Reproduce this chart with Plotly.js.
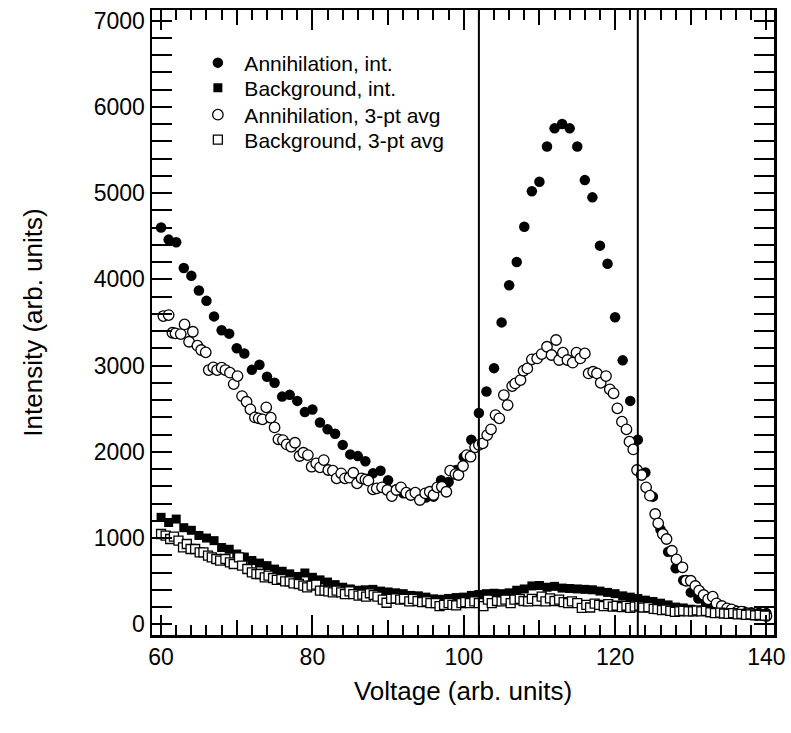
<!DOCTYPE html>
<html>
<head>
<meta charset="utf-8">
<script src="https://cdn.plot.ly/plotly-3.0.1.min.js"></script>
<style>html,body{margin:0;padding:0;background:#fff;}#chart{width:791px;height:733px;}</style>
</head>
<body>
<div id="chart"></div>
<script>
// ---- data ----
const annIntX = [60,61,62,63,64,65,66,67,68,69,70,71,72,73,74,75,76,77,78,79,80,81,82,83,84,85,86,87,88,89,90,91,92,93,94,95,96,97,98,99,100,101,102,103,104,105,106,107,108,109,110,111,112,113,114,115,116,117,118,119,120,121,122,123,124,125,126,127,128,129,130,131,132,133,134,135,136,137,138,139,140];
const annIntY = [4600,4460,4430,4130,4040,3870,3750,3570,3410,3370,3200,3140,2950,3010,2870,2800,2640,2660,2590,2460,2490,2340,2260,2210,2080,1970,1950,1890,1750,1780,1670,1560,1520,1500,1480,1470,1480,1670,1650,1790,1940,2140,2450,2700,2970,3500,3930,4200,4610,5020,5130,5540,5750,5800,5750,5540,5150,4950,4390,4180,3560,3060,2590,2140,1760,1480,1100,840,650,510,370,300,250,210,190,170,160,150,140,135,130];

const bgIntX = annIntX;
const bgIntY = [1240,1180,1220,1120,1090,1030,1000,970,890,870,815,780,740,710,680,640,615,585,555,595,545,515,490,460,430,410,395,400,405,385,375,365,355,335,330,315,295,290,300,310,315,335,345,355,360,355,365,395,410,445,450,430,440,420,415,410,405,400,385,370,355,330,315,300,280,265,245,225,200,190,175,160,150,140,130,125,120,115,110,110,105];

const annAvgX = [60.3,61.0,61.5,61.9,62.6,63.1,63.7,64.2,64.8,65.3,65.9,66.3,66.9,67.4,68.0,68.5,69.1,69.6,70.1,70.7,71.3,71.8,72.4,72.9,73.4,73.9,74.5,75.0,75.5,76.1,76.6,77.2,77.7,78.3,78.8,79.4,79.9,80.5,81.0,81.5,82.1,82.7,83.2,83.8,84.3,84.9,85.4,85.9,86.5,87.0,87.4,88.0,88.5,89.2,89.9,90.5,91.1,91.7,92.4,93.0,93.6,94.2,94.9,95.5,96.0,96.5,97.1,97.7,98.2,98.9,99.3,99.9,100.4,100.9,101.5,102.0,102.5,103.1,103.6,104.2,104.7,105.3,105.8,106.4,106.8,107.5,107.9,108.4,109.0,109.7,110.3,111.0,111.6,112.2,112.6,113.1,113.7,114.4,114.9,115.4,116.0,116.5,117.1,117.6,118.1,118.8,119.3,119.8,120.3,120.9,121.5,121.9,122.4,122.9,123.5,124.1,124.6,125.3,125.7,126.3,126.8,127.5,128.1,128.9,129.4,130.0,130.6,131.1,131.7,132.3,132.9,133.4,134.1,134.8,135.4,136.1,136.7,137.4,138.1,138.7,139.4,140.0];
const annAvgY = [3574,3585,3380,3373,3365,3477,3276,3392,3230,3180,3153,2948,2979,2948,2975,2948,2917,2785,2878,2646,2580,2492,2399,2388,2376,2515,2395,2283,2144,2136,2086,2059,2105,1951,1989,1962,1827,1866,1820,1904,1789,1781,1692,1750,1692,1700,1757,1634,1692,1680,1665,1565,1576,1588,1557,1487,1557,1588,1526,1499,1526,1441,1518,1537,1499,1588,1595,1537,1781,1742,1731,1835,1962,1943,2052,2080,2098,2194,2260,2426,2388,2658,2542,2762,2793,2832,2940,2967,3072,3083,3133,3218,3122,3296,3064,3149,3064,3033,3149,3083,3141,2909,2928,2909,2800,2878,2724,2678,2504,2349,2260,2117,2028,1789,1731,1588,1491,1279,1171,1047,989,853,753,661,505,505,444,390,340,290,320,243,212,185,174,146,146,128,120,108,108,96];

const bgAvgX = [60.0,60.6,61.2,61.7,62.3,62.9,63.4,63.9,64.5,65.1,65.6,66.2,66.7,67.3,67.8,68.5,69.1,69.6,70.3,70.7,71.4,72.0,72.6,73.1,73.7,74.2,74.8,75.3,75.9,76.4,77.0,77.5,78.2,78.8,79.3,79.9,80.5,81.0,81.6,82.1,82.7,83.2,83.8,84.3,84.9,85.4,86.1,86.6,87.1,87.6,88.1,88.6,89.3,89.8,90.4,91.0,91.6,92.1,92.8,93.3,93.9,94.5,95.1,95.6,96.3,96.8,97.4,98.0,98.5,99.0,99.7,100.2,100.8,101.4,102.0,102.6,103.2,103.7,104.4,105.0,105.5,106.2,106.7,107.4,107.9,108.5,109.0,109.7,110.3,110.8,111.4,112.0,112.6,113.2,113.8,114.3,115.0,115.6,116.2,116.7,117.3,117.9,118.5,119.1,119.7,120.2,120.9,121.5,122.0,122.6,123.2,123.7,124.4,125.1,125.6,126.2,126.7,127.3,127.9,128.5,129.0,129.7,130.3,130.8,131.4,132.0,132.6,133.2,133.9,134.4,135.0,135.6,136.2,136.7,137.3,137.9,138.5,139.1,139.8];
const bgAvgY = [1047,1027,989,1016,969,892,931,873,873,834,834,796,776,757,738,757,718,699,776,680,641,602,583,583,544,564,537,514,525,498,498,475,467,448,428,448,459,390,390,382,371,390,371,351,382,351,332,344,320,360,340,320,285,250,295,300,285,295,265,295,270,258,265,245,245,210,225,245,225,220,245,258,245,265,245,210,285,245,270,265,285,245,285,295,270,265,295,270,320,265,300,270,285,258,245,265,245,190,225,195,240,225,210,235,205,215,200,215,190,205,215,195,200,180,175,165,170,155,145,150,155,150,150,160,150,155,140,130,135,125,120,130,115,120,110,115,105,110,100];

const seriesNames = ['Annihilation, int.', 'Background, int.', 'Annihilation, 3-pt avg', 'Background, 3-pt avg'];
const cutoffs = [102, 123];
const xRange = [58.8, 141.0];
const yRange = [-124, 7122];
const xMediumTicks = [70, 90, 110, 130];

const FONT = 'Liberation Sans, Arial, Helvetica, sans-serif';

const traces = [
  {x: annIntX, y: annIntY, type: 'scatter', mode: 'markers', name: seriesNames[0], legend: 'legend',
   marker: {symbol: 'circle', size: 10.5, color: '#000', line: {width: 0}}},
  {x: bgIntX, y: bgIntY, type: 'scatter', mode: 'markers', name: seriesNames[1], legend: 'legend2',
   marker: {symbol: 'square', size: 9, color: '#000', line: {width: 0}}},
  {x: annAvgX, y: annAvgY, type: 'scatter', mode: 'markers', name: seriesNames[2], legend: 'legend3',
   marker: {symbol: 'circle', size: 10.5, color: '#fff', line: {color: '#000', width: 1.3}}},
  {x: bgAvgX, y: bgAvgY, type: 'scatter', mode: 'markers', name: seriesNames[3], legend: 'legend4',
   marker: {symbol: 'square', size: 9, color: '#fff', line: {color: '#000', width: 1.3}}},
  {x: [], y: [], xaxis: 'x2', yaxis: 'y', type: 'scatter', mode: 'markers', showlegend: false, hoverinfo: 'skip'}
];

function leg(yPaper) {
  return {x: 0.0633, y: yPaper, xanchor: 'left', yanchor: 'middle', bgcolor: 'rgba(0,0,0,0)',
          itemwidth: 43, font: {family: FONT, size: 21, color: '#000'}};
}

const layout = {
  width: 791, height: 733,
  margin: {l: 152, r: 17, t: 10, b: 98},
  paper_bgcolor: '#fff', plot_bgcolor: '#fff',
  font: {family: FONT, color: '#000', size: 23},
  showlegend: true,
  legend: leg(0.9152), legend2: leg(0.8752), legend3: leg(0.832), legend4: leg(0.792),
  xaxis: {
    range: xRange, dtick: 20, tick0: 60, ticks: 'inside', ticklen: 20, tickwidth: 2, tickcolor: '#000',
    minor: {dtick: 2, tick0: 60, ticks: 'inside', ticklen: 10, tickwidth: 2, tickcolor: '#000', showgrid: false},
    showline: true, linewidth: 2.5, linecolor: '#000', mirror: 'allticks',
    showgrid: false, zeroline: false,
    tickfont: {family: FONT, size: 23, color: '#000'},
    title: {text: 'Voltage (arb. units)', font: {family: FONT, size: 26, color: '#000'}, standoff: 13}
  },
  xaxis2: {
    overlaying: 'x', anchor: 'y', side: 'bottom', range: xRange,
    tickmode: 'array', tickvals: xMediumTicks, ticks: 'inside', ticklen: 15, tickwidth: 2, tickcolor: '#000',
    showticklabels: false, showline: true, linewidth: 2.5, linecolor: '#000', mirror: 'allticks',
    showgrid: false, zeroline: false
  },
  yaxis: {
    range: yRange, dtick: 1000, tick0: 0, ticks: 'inside', ticklen: 20, tickwidth: 2, tickcolor: '#000',
    minor: {dtick: 200, tick0: 0, ticks: 'inside', ticklen: 10, tickwidth: 2, tickcolor: '#000', showgrid: false},
    showline: true, linewidth: 2.5, linecolor: '#000', mirror: 'allticks',
    showgrid: false, zeroline: false,
    tickfont: {family: FONT, size: 23, color: '#000'},
    title: {text: 'Intensity (arb. units)', font: {family: FONT, size: 26, color: '#000'}, standoff: 44}
  },
  shapes: cutoffs.map(v => ({type: 'line', xref: 'x', yref: 'paper', x0: v, x1: v, y0: 0, y1: 1,
                             line: {color: '#000', width: 2}}))
};

Plotly.newPlot('chart', traces, layout, {displayModeBar: false, staticPlot: true});
</script>
</body>
</html>
